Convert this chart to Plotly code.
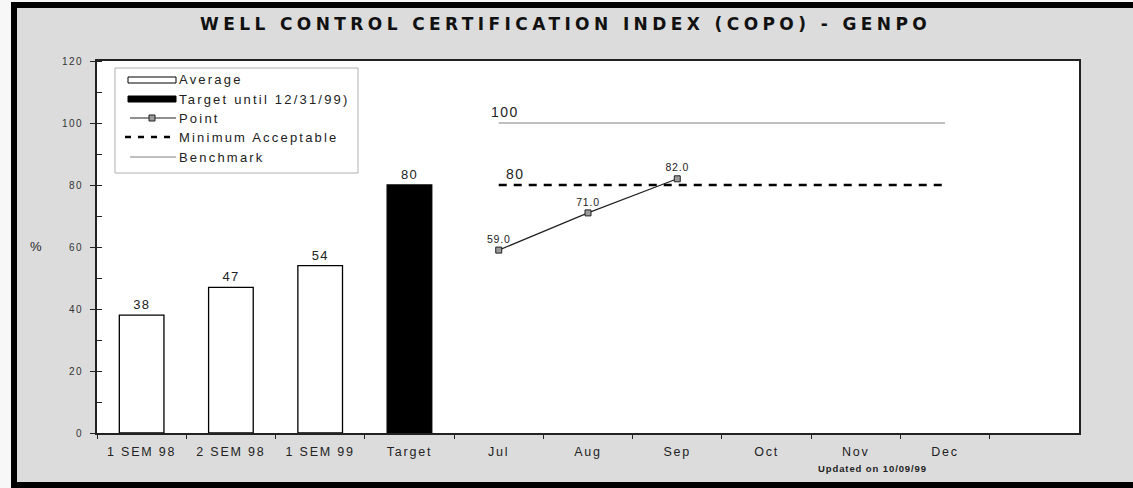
import plotly.graph_objects as go

# ---- data -------------------------------------------------------------
categories = ["1 SEM 98", "2 SEM 98", "1 SEM 99", "Target",
              "Jul", "Aug", "Sep", "Oct", "Nov", "Dec"]
bar_categories = ["1 SEM 98", "2 SEM 98", "1 SEM 99", "Target"]
bar_values = [38, 47, 54, 80]
point_months = ["Jul", "Aug", "Sep"]
point_values = [59.0, 71.0, 82.0]
line_months = ["Jul", "Aug", "Sep", "Oct", "Nov", "Dec"]
benchmark_values = [100, 100, 100, 100, 100, 100]
minimum_values = [80, 80, 80, 80, 80, 80]
y_ticks = [0, 20, 40, 60, 80, 100, 120]

# ---- geometry (pixels) -------------------------------------------------
W, H = 1133, 488
L, R, T, B = 97, 1079, 61, 433
FONT = "Liberation Sans, Arial, sans-serif"
TITLE_FONT = "DejaVu Sans, Liberation Sans, sans-serif"
INK = "#222222"


def px(x):
    return (x - L) / (R - L)


def py(y):
    return (B - y) / (B - T)


def spaced(text, ls):
    return f'<span style="letter-spacing:{ls}px">{text}</span>'


fig = go.Figure()

# bars: averages in white, target in black
fig.add_trace(go.Bar(
    x=bar_categories, y=bar_values,
    marker=dict(color=["white", "white", "white", "black"],
                line=dict(color="black", width=1.3)),
    width=0.5,
    text=[spaced(str(v), 1.2) for v in bar_values],
    textposition="outside",
    textfont=dict(family=FONT, size=13, color=INK),
    cliponaxis=False,
    showlegend=False,
))

# benchmark line
fig.add_trace(go.Scatter(
    x=line_months, y=benchmark_values, mode="lines",
    line=dict(color="#808080", width=1),
    showlegend=False,
))

# minimum acceptable line
fig.add_trace(go.Scatter(
    x=line_months, y=minimum_values, mode="lines",
    line=dict(color="black", width=2.6, dash="8px,7px"),
    showlegend=False,
))

# monthly points
fig.add_trace(go.Scatter(
    x=point_months, y=point_values, mode="lines+markers+text",
    line=dict(color=INK, width=1.2),
    marker=dict(symbol="square", size=6, color="#9a9a9a",
                line=dict(color=INK, width=1)),
    text=[spaced(f"{v:.1f}", 0.8) for v in point_values],
    textposition="top center",
    textfont=dict(family=FONT, size=10.5, color=INK),
    cliponaxis=False,
    showlegend=False,
))

shapes = []
annotations = []

# outer frame and the strips outside it
shapes.append(dict(type="rect", xref="paper", yref="paper",
                   x0=px(-5), x1=px(11), y0=py(495), y1=py(-5),
                   fillcolor="#f7f7f7", line=dict(width=0), layer="below"))
shapes.append(dict(type="rect", xref="paper", yref="paper",
                   x0=px(11), x1=px(1300), y0=py(3), y1=py(-5),
                   fillcolor="#f7f7f7", line=dict(width=0), layer="below"))
shapes.append(dict(type="rect", xref="paper", yref="paper",
                   x0=px(14), x1=px(1300), y0=py(485), y1=py(5),
                   line=dict(color="black", width=6), layer="above"))

# legend box
lx0, lx1, ly0, ly1 = 115, 358, 68, 173
shapes.append(dict(type="rect", xref="paper", yref="paper",
                   x0=px(lx0), x1=px(lx1), y0=py(ly1), y1=py(ly0),
                   fillcolor="white", line=dict(color="#b0b0b0", width=1)))
sx0, sx1, tx = 128, 176, 177
rows = [80, 99, 118, 137, 157]
labels = ["Average", "Target until 12/31/99)", "Point",
          "Minimum Acceptable", "Benchmark"]
# swatches
shapes.append(dict(type="rect", xref="paper", yref="paper",
                   x0=px(sx0), x1=px(sx1), y0=py(rows[0] + 3), y1=py(rows[0] - 3),
                   fillcolor="white", line=dict(color="black", width=1)))
shapes.append(dict(type="rect", xref="paper", yref="paper",
                   x0=px(sx0), x1=px(sx1), y0=py(rows[1] + 3), y1=py(rows[1] - 3),
                   fillcolor="black", line=dict(color="black", width=1)))
shapes.append(dict(type="line", xref="paper", yref="paper",
                   x0=px(sx0 + 2), x1=px(sx1), y0=py(rows[2]), y1=py(rows[2]),
                   line=dict(color=INK, width=1.2)))
shapes.append(dict(type="rect", xref="paper", yref="paper",
                   x0=px(149), x1=px(155), y0=py(rows[2] + 3), y1=py(rows[2] - 3),
                   fillcolor="#9a9a9a", line=dict(color=INK, width=1)))
shapes.append(dict(type="line", xref="paper", yref="paper",
                   x0=px(sx0 - 3), x1=px(sx1), y0=py(rows[3]), y1=py(rows[3]),
                   line=dict(color="black", width=2.6, dash="6px,7px")))
shapes.append(dict(type="line", xref="paper", yref="paper",
                   x0=px(sx0 + 2), x1=px(sx1), y0=py(rows[4]), y1=py(rows[4]),
                   line=dict(color="#808080", width=1)))
for ry, lab in zip(rows, labels):
    annotations.append(dict(xref="paper", yref="paper", x=px(tx), y=py(ry),
                            xanchor="left", yanchor="middle", showarrow=False,
                            text=spaced(lab, 2.2),
                            font=dict(family=FONT, size=13, color=INK)))

# title
annotations.append(dict(xref="paper", yref="paper", x=px(565), y=py(24),
                        xanchor="center", yanchor="middle", showarrow=False,
                        text="<b>" + spaced("WELL CONTROL CERTIFICATION INDEX (COPO) - GENPO", 4.4) + "</b>",
                        font=dict(family=TITLE_FONT, size=17, color="#111111",
                                  weight="bold")))

# y axis title
annotations.append(dict(xref="paper", yref="paper", x=px(36), y=py(246),
                        xanchor="center", yanchor="middle", showarrow=False,
                        text="%", font=dict(family=FONT, size=13, color=INK)))

# reference line values
annotations.append(dict(xref="x", yref="y", x="Jul", y=benchmark_values[0],
                        xanchor="left", yanchor="bottom", xshift=-10, yshift=1,
                        showarrow=False, text=spaced(str(benchmark_values[0]), 1.5),
                        font=dict(family=FONT, size=14, color=INK)))
annotations.append(dict(xref="x", yref="y", x="Jul", y=minimum_values[0],
                        xanchor="left", yanchor="bottom", xshift=5, yshift=1,
                        showarrow=False, text=spaced(str(minimum_values[0]), 1.5),
                        font=dict(family=FONT, size=14, color=INK)))

# update stamp
annotations.append(dict(xref="paper", yref="paper", x=px(872), y=py(469),
                        xanchor="center", yanchor="middle", showarrow=False,
                        text=spaced("Updated on 10/09/99", 0.9),
                        font=dict(family=FONT, size=9.5, color=INK, weight="bold")))

fig.update_layout(
    width=W, height=H,
    margin=dict(l=L, r=W - R, t=T, b=H - B, pad=0),
    paper_bgcolor="#dcdcdc",
    plot_bgcolor="white",
    font=dict(family=FONT, color=INK),
    showlegend=False,
    bargap=0.5,
    shapes=shapes,
    annotations=annotations,
    xaxis=dict(
        type="category", categoryorder="array", categoryarray=categories,
        range=[-0.5, len(categories) + 0.5],
        tickmode="array", tickvals=categories,
        ticktext=[spaced(c, 1.8) for c in categories],
        tickson="boundaries", ticks="outside", ticklen=4, tickcolor=INK,
        tickfont=dict(family=FONT, size=12.5, color=INK),
        ticklabelstandoff=6,
        showline=True, linecolor=INK, linewidth=1.5, mirror=True,
        showgrid=False, zeroline=False, fixedrange=True,
    ),
    yaxis=dict(
        range=[0, 120],
        tickmode="array", tickvals=y_ticks,
        ticktext=[spaced(str(v), 1.5) for v in y_ticks],
        ticks="outside", ticklen=5, tickcolor=INK,
        tickfont=dict(family=FONT, size=10, color="#333333"),
        ticklabelstandoff=5,
        minor=dict(dtick=10, ticks="inside", ticklen=5, tickcolor=INK),
        showline=True, linecolor=INK, linewidth=1.8, mirror=True,
        showgrid=False, zeroline=False, fixedrange=True,
    ),
)

fig.write_html("out.html")
